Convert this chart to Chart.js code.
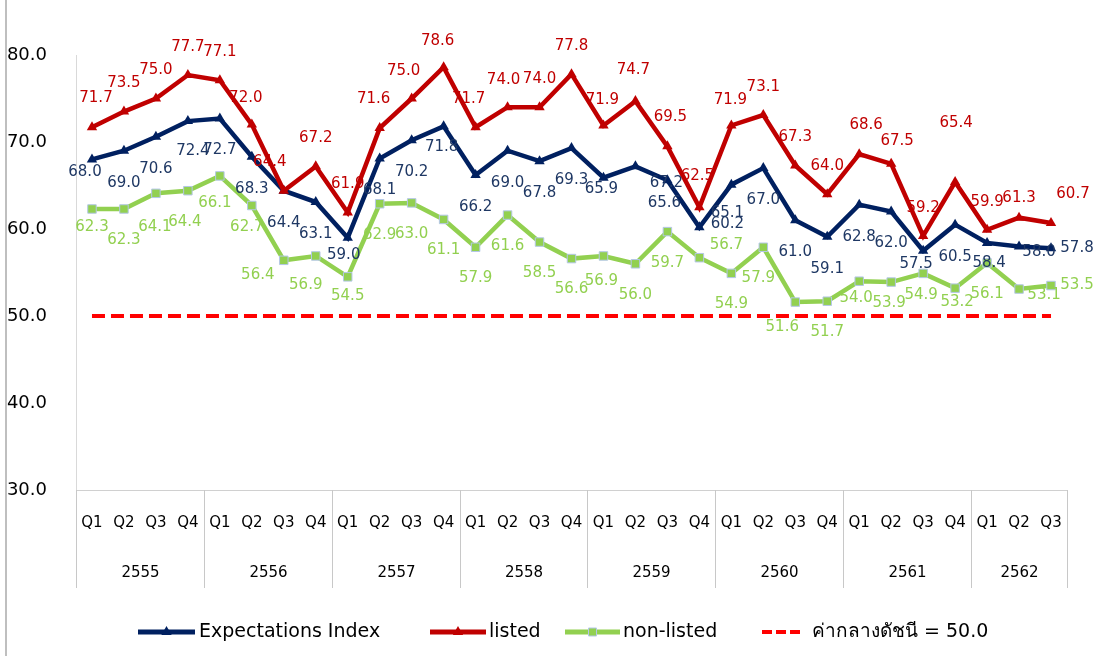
<!DOCTYPE html>
<html>
<head>
<meta charset="utf-8">
<script src="https://cdn.jsdelivr.net/npm/chart.js@4.4.0/dist/chart.umd.min.js"></script>
<style>
  html, body { margin: 0; padding: 0; background: #fff; }
  #wrap { width: 1094px; height: 656px; }
</style>
</head>
<body>
<div id="wrap"><canvas id="chart" width="1094" height="656"></canvas></div>
<script>
const years = ['2555', '2556', '2557', '2558', '2559', '2560', '2561', '2562'];
const quartersPerYear = [4, 4, 4, 4, 4, 4, 4, 3];
const quarterNames = ['Q1', 'Q2', 'Q3', 'Q4'];

const expectationsIndex = [
  68.0, 69.0, 70.6, 72.4,
  72.7, 68.3, 64.4, 63.1,
  59.0, 68.1, 70.2, 71.8,
  66.2, 69.0, 67.8, 69.3,
  65.9, 67.2, 65.6, 60.2,
  65.1, 67.0, 61.0, 59.1,
  62.8, 62.0, 57.5, 60.5,
  58.4, 58.0, 57.8,
];
const listed = [
  71.7, 73.5, 75.0, 77.7,
  77.1, 72.0, 64.4, 67.2,
  61.9, 71.6, 75.0, 78.6,
  71.7, 74.0, 74.0, 77.8,
  71.9, 74.7, 69.5, 62.5,
  71.9, 73.1, 67.3, 64.0,
  68.6, 67.5, 59.2, 65.4,
  59.9, 61.3, 60.7,
];
const nonListed = [
  62.3, 62.3, 64.1, 64.4,
  66.1, 62.7, 56.4, 56.9,
  54.5, 62.9, 63.0, 61.1,
  57.9, 61.6, 58.5, 56.6,
  56.9, 56.0, 59.7, 56.7,
  54.9, 57.9, 51.6, 51.7,
  54.0, 53.9, 54.9, 53.2,
  56.1, 53.1, 53.5,
];
const midpoint = 50.0;
const midpointLabel = 'ค่ากลางดัชนี = 50.0';

const labels = years.flatMap((y, i) => quarterNames.slice(0, quartersPerYear[i]));

const FONT = "'DejaVu Sans', 'Noto Sans', sans-serif";
const NAVY = '#002060';
const RED = '#C00000';
const GREEN = '#92D050';
const DASH_RED = '#FF0000';

// value labels: default offset from the point, plus a few hand nudges
// (keyed by point index) so they sit where the original placed them
const valueLabels = [
  {
    dataset: 0, color: '#1F3864', dx: 0, dy: 32,
    nudge: {
      0: [-7, -19], 3: [5, -2], 8: [-4, -15], 11: [-2, -11], 16: [-2, -21],
      17: [31, -15], 18: [-3, -9], 19: [28, -35], 20: [-4, -4], 26: [-7, -19],
      28: [2, -12], 29: [20, -26], 30: [26, -32],
    },
  },
  {
    dataset: 1, color: RED, dx: 0, dy: -28,
    nudge: {
      0: [4, -1], 5: [-6, 2], 6: [-14, -1], 9: [-6, -1], 10: [-8, 1], 11: [-6, 2],
      12: [-7, 0], 13: [-4, 1], 16: [-1, 3], 17: [-2, -3], 18: [3, -1], 19: [-2, -3],
      20: [-1, 3], 24: [7, -1], 25: [6, 5], 27: [1, -31], 29: [0, 8], 30: [22, -1],
    },
  },
  {
    dataset: 2, color: GREEN, dx: 0, dy: 31,
    nudge: {
      0: [0, -13], 2: [-1, 3], 3: [-3, 0], 4: [-5, -4], 5: [-5, -9], 6: [-26, -16],
      7: [-10, -2], 8: [0, -12], 16: [-2, -6], 19: [27, -44], 21: [-5, 0], 22: [-13, -6],
      24: [-3, -14], 25: [-2, -10], 26: [-2, -9], 27: [2, -17], 29: [25, -25], 30: [26, -31],
    },
  },
];

const decorPlugin = {
  id: 'decor',
  beforeDraw: (chart) => {
    const ctx = chart.ctx;
    ctx.save();
    ctx.strokeStyle = '#bfbfbf';
    ctx.lineWidth = 2;
    ctx.beginPath();
    ctx.moveTo(6, 0);
    ctx.lineTo(6, chart.height);
    ctx.stroke();
    ctx.restore();
  },
  afterDatasetsDraw: (chart) => {
    const ctx = chart.ctx;
    ctx.save();
    ctx.font = `15px ${FONT}`;
    ctx.textAlign = 'center';
    ctx.textBaseline = 'middle';
    valueLabels.forEach((cfg) => {
      const meta = chart.getDatasetMeta(cfg.dataset);
      const values = chart.data.datasets[cfg.dataset].data;
      ctx.fillStyle = cfg.color;
      meta.data.forEach((pt, j) => {
        const [nx, ny] = cfg.nudge[j] || [0, 0];
        ctx.fillText(values[j].toFixed(1), pt.x + cfg.dx + nx, pt.y + cfg.dy + ny);
      });
    });
    ctx.restore();
  },
  afterDraw: (chart) => {
    const ctx = chart.ctx;
    const xs = chart.scales.x;
    const area = chart.chartArea;
    const half = (xs.getPixelForValue(1) - xs.getPixelForValue(0)) / 2;
    ctx.save();
    // year separators and year labels
    ctx.strokeStyle = '#c8c8c8';
    ctx.lineWidth = 1;
    ctx.font = `15px ${FONT}`;
    ctx.fillStyle = '#000';
    ctx.textAlign = 'center';
    ctx.textBaseline = 'middle';
    let idx = 0;
    years.forEach((year, i) => {
      const left = Math.round(xs.getPixelForValue(idx) - half) + 0.5;
      const right = Math.round(xs.getPixelForValue(idx + quartersPerYear[i] - 1) + half) + 0.5;
      ctx.beginPath();
      ctx.moveTo(left, area.bottom);
      ctx.lineTo(left, 588);
      if (i === years.length - 1) {
        ctx.moveTo(right, area.bottom);
        ctx.lineTo(right, 588);
      }
      ctx.stroke();
      ctx.fillText(year, (left + right) / 2, 573);
      idx += quartersPerYear[i];
    });

    // legend
    const ly = 632;
    const drawMarker = (style, x, color, border) => {
      ctx.fillStyle = color;
      ctx.beginPath();
      if (style === 'triangle') {
        const r = 6;
        ctx.moveTo(x, ly - r);
        ctx.lineTo(x + r * 0.866, ly + r * 0.5);
        ctx.lineTo(x - r * 0.866, ly + r * 0.5);
        ctx.closePath();
        ctx.fill();
      } else {
        ctx.rect(x - 4, ly - 4, 8, 8);
        ctx.fill();
        ctx.strokeStyle = border;
        ctx.lineWidth = 1;
        ctx.stroke();
      }
    };
    const drawLine = (x1, x2, color, dash) => {
      ctx.strokeStyle = color;
      ctx.lineWidth = dash ? 4 : 5;
      ctx.setLineDash(dash || []);
      ctx.beginPath();
      ctx.moveTo(x1, ly);
      ctx.lineTo(x2, ly);
      ctx.stroke();
      ctx.setLineDash([]);
    };
    const items = [
      { x1: 138, x2: 195, color: NAVY, marker: 'triangle', text: 'Expectations Index', tx: 199 },
      { x1: 430, x2: 486, color: RED, marker: 'triangle', text: 'listed', tx: 489 },
      { x1: 565, x2: 620, color: GREEN, marker: 'rect', border: '#B4C7E7', text: 'non-listed', tx: 623 },
      { x1: 762, x2: 800, color: DASH_RED, dash: [10, 4], text: midpointLabel, tx: 812 },
    ];
    items.forEach((it) => {
      drawLine(it.x1, it.x2, it.color, it.dash);
      if (it.marker) drawMarker(it.marker, (it.x1 + it.x2) / 2, it.color, it.border);
      ctx.fillStyle = '#000';
      ctx.font = `19px ${FONT}`;
      ctx.textAlign = 'left';
      ctx.textBaseline = 'middle';
      ctx.fillText(it.text, it.tx, ly);
    });
    ctx.restore();
  },
};

new Chart(document.getElementById('chart'), {
  type: 'line',
  data: {
    labels,
    datasets: [
      {
        label: 'Expectations Index',
        data: expectationsIndex,
        borderColor: NAVY,
        backgroundColor: NAVY,
        borderWidth: 4.5,
        pointStyle: 'triangle',
        pointRadius: 6,
        pointBorderWidth: 0,
        tension: 0,
        order: 2,
      },
      {
        label: 'listed',
        data: listed,
        borderColor: RED,
        backgroundColor: RED,
        borderWidth: 4.5,
        pointStyle: 'triangle',
        pointRadius: 6,
        pointBorderWidth: 0,
        tension: 0,
        order: 1,
      },
      {
        label: 'non-listed',
        data: nonListed,
        borderColor: GREEN,
        backgroundColor: GREEN,
        borderWidth: 4.5,
        pointStyle: 'rect',
        pointRadius: 6,
        pointBorderColor: '#B4C7E7',
        pointBorderWidth: 1,
        tension: 0,
        order: 3,
      },
      {
        label: midpointLabel,
        data: labels.map(() => midpoint),
        borderColor: DASH_RED,
        borderWidth: 4,
        borderDash: [13, 6],
        pointRadius: 0,
        tension: 0,
        order: 4,
      },
    ],
  },
  options: {
    responsive: false,
    animation: false,
    devicePixelRatio: 1,
    layout: { padding: { left: 0, right: 27, top: 55, bottom: 100 } },
    scales: {
      x: {
        offset: true,
        grid: { drawOnChartArea: false, drawTicks: false, color: 'transparent' },
        border: { display: true, color: '#d0d0d0', width: 1 },
        ticks: {
          font: { family: FONT, size: 15 },
          color: '#000',
          padding: 24,
          maxRotation: 0,
          autoSkip: false,
        },
      },
      y: {
        min: 30,
        max: 80,
        grid: { drawOnChartArea: false, drawTicks: false },
        border: { display: true, color: '#d9d9d9', width: 1 },
        ticks: {
          stepSize: 10,
          font: { family: FONT, size: 18 },
          color: '#000',
          padding: 29,
          callback: (value) => value.toFixed(1),
        },
        afterFit: (scale) => { scale.width = 76; },
      },
    },
    plugins: {
      legend: { display: false },
      tooltip: { enabled: false },
    },
  },
  plugins: [decorPlugin],
});
</script>
</body>
</html>
